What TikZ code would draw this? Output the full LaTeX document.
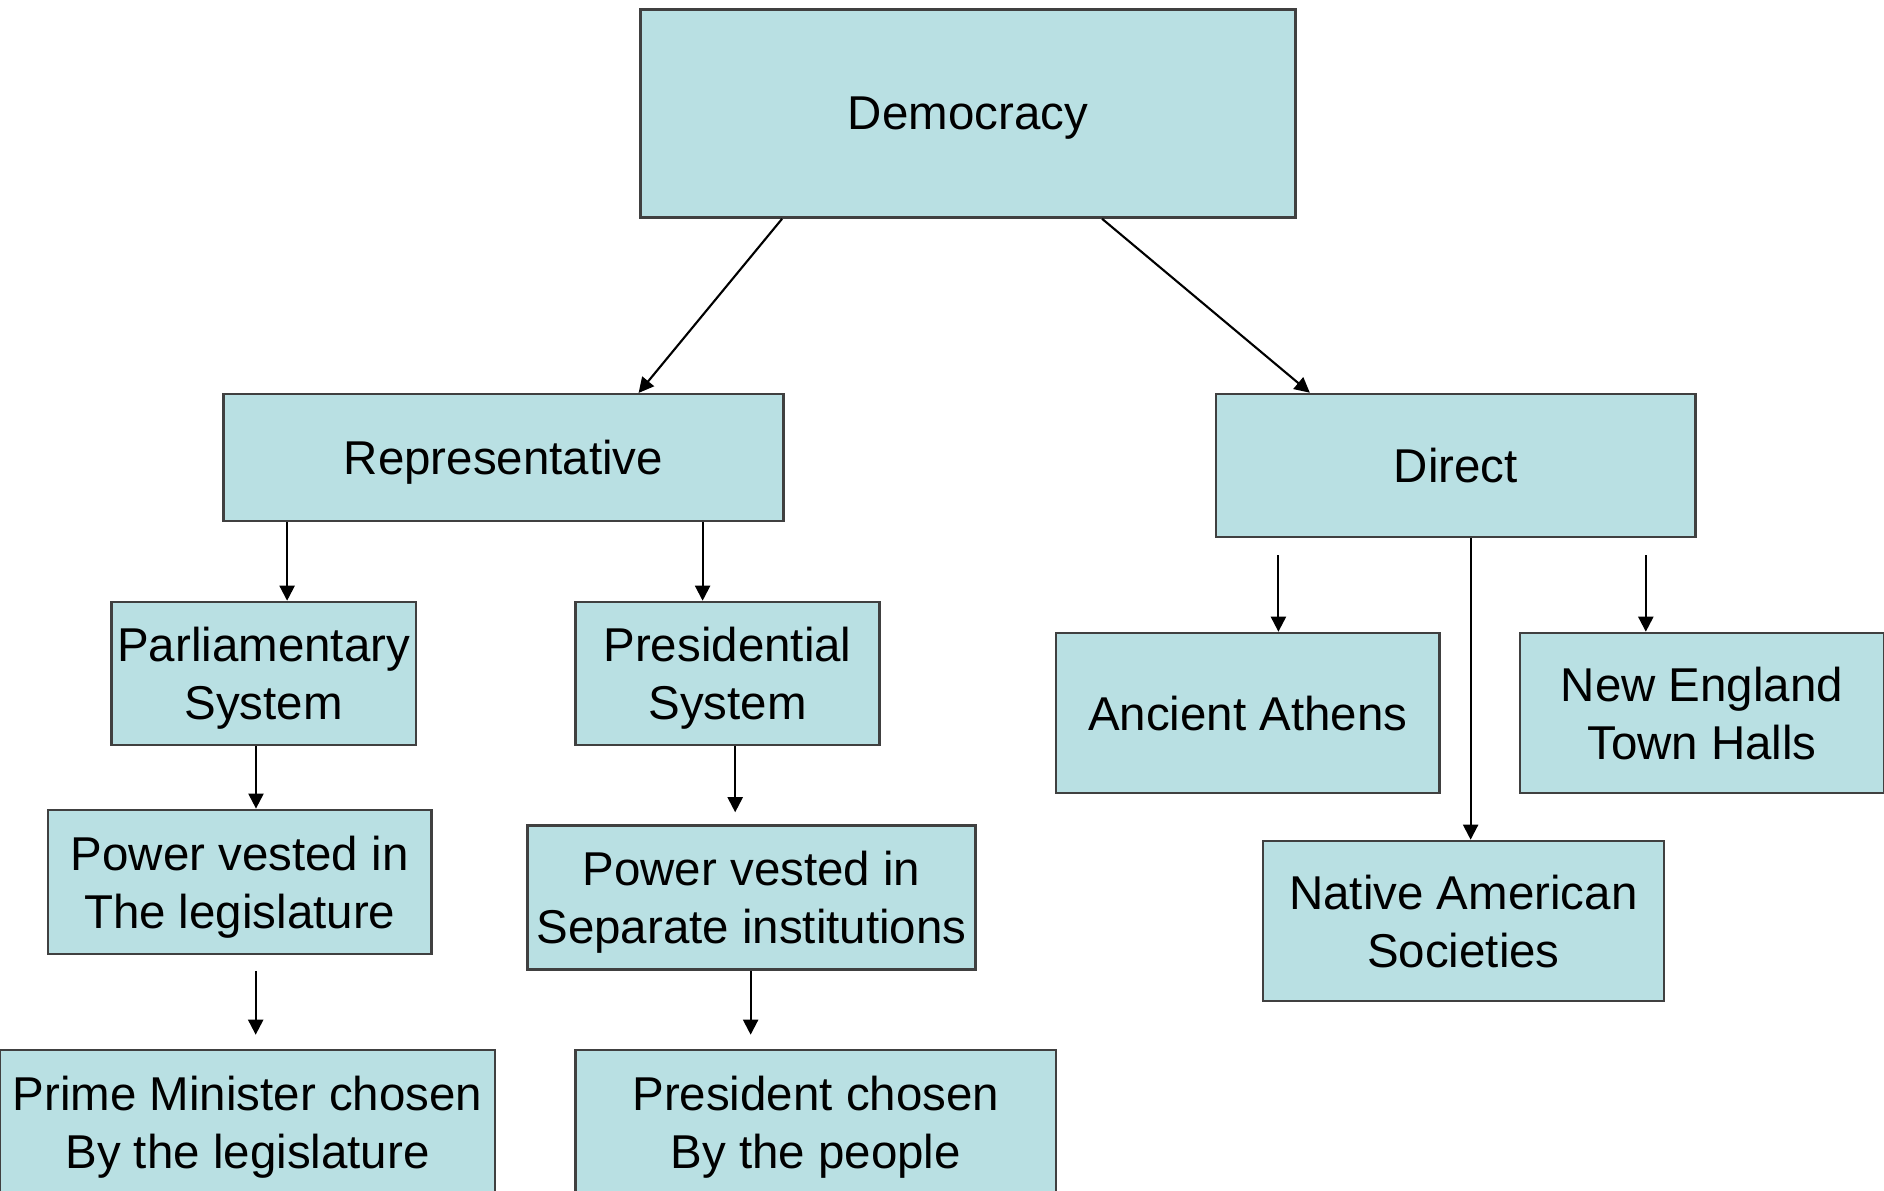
\documentclass[tikz,border=0pt]{standalone}
\usepackage{fontspec}
\setmainfont{Liberation Sans}
\usetikzlibrary{calc,arrows.meta}
\definecolor{boxFill}{HTML}{B9E0E3}
\definecolor{boxLine}{HTML}{404040}

\begin{document}
\begin{tikzpicture}[x=0.01cm,y=-0.01cm,
        box/.style={draw=boxLine,line width=0.7pt,fill=boxFill,inner sep=0pt,align=center,
        text depth=0pt,font=\fontsize{13.5}{16.5}\selectfont},
        arrow/.style={-{Triangle[length=4.3pt,width=4.3pt]},line width=0.6pt,draw=black}]
    \useasboundingbox (0,0) rectangle (1884,1191);
    % top and second level
    \node[box,minimum width=6.55cm,minimum height=2.08cm] (dem) at (968,113.5) {Democracy};
    \node[box,minimum width=5.6cm,minimum height=1.27cm] (rep) at (503.5,457.7) {Representative};
    \node[box,minimum width=4.79cm,minimum height=1.43cm] (dir) at (1455.7,465.5) {Direct};
    % representative branch
    \node[box,minimum width=3.04cm,minimum height=1.43cm] (parl) at (263.7,673.5) {Parliamentary\\System};
    \node[box,minimum width=3.04cm,minimum height=1.43cm] (pres) at (727.5,673.5) {Presidential\\System};
    \node[box,minimum width=3.83cm,minimum height=1.44cm] (leg) at (239.7,881.9) {Power vested in\\The legislature};
    \node[box,minimum width=4.48cm,minimum height=1.44cm] (sep) at (751.5,897.5) {Power vested in\\Separate institutions};
    \node[box,minimum width=4.95cm,minimum height=1.44cm] (pm) at (247.5,1122) {Prime Minister chosen\\By the legislature};
    \node[box,minimum width=4.80cm,minimum height=1.44cm] (pc) at (815.8,1122) {President chosen\\By the people};
    % direct branch
    \node[box,minimum width=3.83cm,minimum height=1.60cm] (ath) at (1247.7,713) {Ancient Athens};
    \node[box,minimum width=3.64cm,minimum height=1.60cm] (ne) at (1702,713) {New England\\Town Halls};
    \node[box,minimum width=4.01cm,minimum height=1.60cm] (nat) at (1463.4,921) {Native American\\Societies};
    % free ends of the short arrows
    \coordinate (legout) at ($(leg.south)+(16,15.6)$);
    \coordinate (pmin) at ($(legout |- pm.north)+(0,-14)$);
    \coordinate (sepin) at ($(pres.south west)+(161,66)$);
    \coordinate (sepout) at ($(sep.south west)+(224.5,0)$);
    \coordinate (pcin) at ($(sepout |- pc.north)+(0,-14)$);
    \coordinate (athout) at ($(dir.south west)+(63.6,17)$);
    \coordinate (neout) at ($(dir.south west)+(431,17)$);
    % connectors
    \draw[arrow] ($(dem.south west)+(143,0)$) -- ($(rep.north west)+(416.5,0)$);
    \draw[arrow] ($(dem.south west)+(463,0)$) -- ($(dir.north west)+(95,0)$);
    \draw[arrow] ($(rep.south west)+(65,0)$) coordinate (a) -- (a |- parl.north);
    \draw[arrow] ($(rep.south west)+(480.5,0)$) coordinate (b) -- (b |- pres.north);
    \draw[arrow] ($(parl.south)+(-7.7,0)$) coordinate (c) -- (c |- leg.north);
    \draw[arrow] (legout) -- (pmin);
    \draw[arrow] (pres.south -| sepin) -- (sepin);
    \draw[arrow] (sepout) -- (pcin);
    \draw[arrow] (athout) -- (athout |- ath.north);
    \draw[arrow] (neout) -- (neout |- ne.north);
    \draw[arrow] ($(dir.south west)+(255.8,0)$) coordinate (d) -- (d |- nat.north);
\end{tikzpicture}
\end{document}
